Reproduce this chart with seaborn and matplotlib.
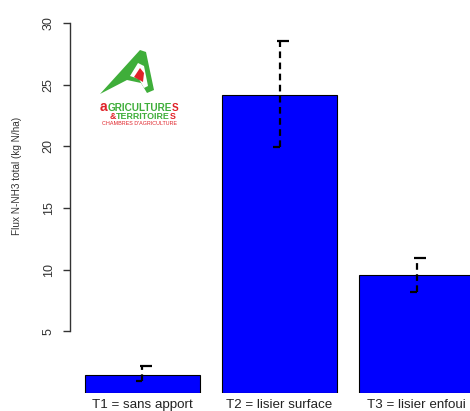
import matplotlib
matplotlib.use("Agg")
import matplotlib.pyplot as plt
import seaborn as sns
import pandas as pd
from matplotlib.patches import Polygon

# Ammonia volatilisation per treatment (kg N/ha)
treatments = ["T1 = sans apport", "T2 = lisier surface", "T3 = lisier enfoui"]
flux_mean = [1.45, 24.2, 9.55]
flux_low = [0.95, 19.95, 8.2]
flux_high = [2.2, 28.5, 10.95]
y_ticks = [5, 10, 15, 20, 25, 30]

W, H, DPI = 470, 411, 100

sns.set_theme(style="white")
plt.rcParams["font.family"] = ["Liberation Sans", "DejaVu Sans"]

fig = plt.figure(figsize=(W / DPI, H / DPI), dpi=DPI)
fig.patch.set_facecolor("white")
ax = fig.add_axes([70 / W, (H - 393) / H, 400 / W, 370 / H])

df = pd.DataFrame({"traitement": treatments, "flux": flux_mean})
sns.barplot(data=df, x="traitement", y="flux", color="blue", saturation=1,
            width=0.84, edgecolor="black", linewidth=0.8, errorbar=None, ax=ax)

# dashed error bars with short caps
xs = list(range(len(treatments)))
ax.vlines(xs, flux_low, flux_high, colors="black", linestyles=(0, (3, 2)),
          linewidth=1.6)
for x, lo, hi in zip(xs, flux_low, flux_high):
    ax.plot([x - 0.02, x + 0.07], [hi, hi], color="black", lw=1.6,
            solid_capstyle="butt")
    ax.plot([x - 0.05, x], [lo, lo], color="black", lw=1.6,
            solid_capstyle="butt")

ax.set_xlim(-0.529, 2.39)
ax.set_ylim(0, 30)

sns.despine(ax=ax, bottom=True)
ax.spines["left"].set_bounds(5, 30)
ax.spines["left"].set_color("#333333")
ax.spines["left"].set_linewidth(1.0)

ax.set_yticks(y_ticks)
ax.tick_params(axis="y", left=True, length=5, width=1, direction="out",
               color="#333333", labelsize=9, pad=6, labelcolor="#333333")
for lbl in ax.get_yticklabels():
    lbl.set_rotation(90)
    lbl.set_va("center")

ax.tick_params(axis="x", bottom=False, length=0, pad=4, labelsize=9.6,
               labelcolor="#222222")
ax.set_xlabel("")
ax.set_ylabel("Flux N-NH3 total (kg N/ha)", fontsize=7.2, color="#333333",
              va="center", ha="center")
ax.yaxis.set_label_coords(-0.1325, 0.586)


# --- logo in the upper left corner ---
def px(x, y):
    return (x / W, 1 - y / H)


green = "#3fae3a"
red = "#e02228"
fig.add_artist(Polygon([px(100, 94), px(140, 50), px(146, 52), px(154, 90),
                        px(147, 93), px(141, 83), px(127, 80)],
                       closed=True, transform=fig.transFigure,
                       facecolor=green, edgecolor="none"))
fig.add_artist(Polygon([px(130, 76), px(138, 63), px(144, 66), px(148, 86),
                        px(144, 88), px(139, 79)],
                       closed=True, transform=fig.transFigure,
                       facecolor="white", edgecolor="none"))
fig.add_artist(Polygon([px(134, 77), px(140, 68), px(144, 73), px(143, 82)],
                       closed=True, transform=fig.transFigure,
                       facecolor=red, edgecolor="none"))

logo_font = ["Liberation Sans", "DejaVu Sans"]
renderer = fig.canvas.get_renderer()


def chain(parts, x0, y_base):
    x = x0
    for s, color, size, weight in parts:
        t = fig.text(*px(x, y_base), s, color=color, fontsize=size,
                     fontweight=weight, family=logo_font,
                     ha="left", va="baseline")
        x += t.get_window_extent(renderer).width


chain([("a", red, 10, "bold"), ("GRICULTURE", green, 7.2, "bold"),
       ("S", red, 7.2, "bold")], 100, 111)
chain([("&", red, 6.4, "bold"), ("TERRITOIRE", green, 6.4, "bold"),
       ("S", red, 6.4, "bold")], 110, 119)
chain([("CHAMBRES D'AGRICULTURE", red, 3.9, "normal")], 102, 125)

fig.savefig("out.png", dpi=DPI)
